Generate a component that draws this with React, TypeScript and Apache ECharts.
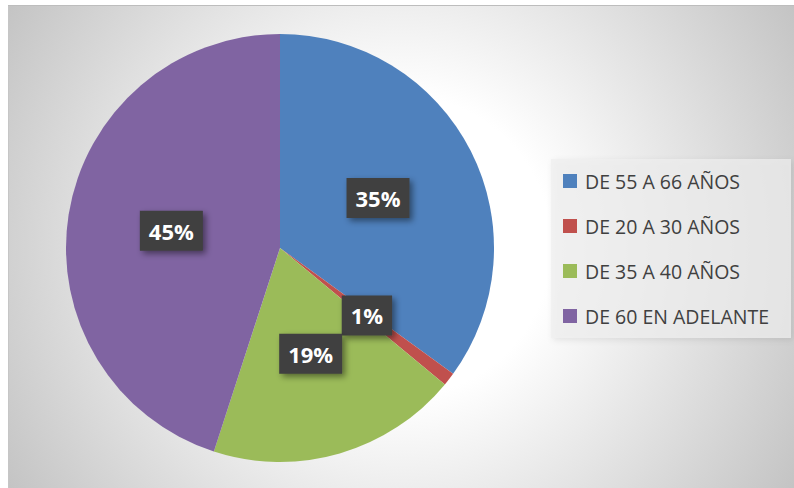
import React, { useEffect, useRef } from "react";
import * as echarts from "echarts";

const categories = ["DE 55 A 66 AÑOS", "DE 20 A 30 AÑOS", "DE 35 A 40 AÑOS", "DE 60 EN ADELANTE"];
const values = [35, 1, 19, 45];
const colors = ["#4f81bd", "#c0504d", "#9bbb59", "#8064a2"];

export default function App() {
  const ref = useRef<HTMLDivElement>(null);
  useEffect(() => {
    if (!ref.current) return;
    const chart = echarts.init(ref.current, null, { renderer: "svg" });
    chart.setOption({
      animation: false,
      backgroundColor: "transparent",
      color: colors,
      graphic: [
        {
          type: "rect",
          left: 543,
          top: 154,
          shape: { width: 240, height: 179 },
          style: {
            fill: "rgba(238,238,238,0.72)",
            shadowColor: "rgba(0,0,0,0.12)",
            shadowBlur: 6,
            shadowOffsetX: 2,
            shadowOffsetY: 2,
          },
          z: 0,
        },
      ],
      legend: {
        orient: "vertical",
        left: 555,
        top: 165,
        padding: 0,
        itemWidth: 14,
        itemHeight: 14,
        itemGap: 23,
        icon: "rect",
        data: categories,
        textStyle: {
          fontFamily: "Open Sans",
          fontSize: 19.5,
          lineHeight: 22,
          color: "#404040",
          padding: [0, 0, 0, 3],
        },
        z: 5,
      },
      series: [
        {
          type: "pie",
          center: [272, 243],
          radius: [0, 214],
          startAngle: 90,
          clockwise: true,
          avoidLabelOverlap: false,
          labelLayout: { hideOverlap: false },
          data: categories.map((name, i) => ({ name, value: values[i] })),
          label: {
            show: true,
            position: "inside",
            overflow: "none",
            formatter: (p: any) => Math.round(p.percent) + "%",
            color: "#ffffff",
            fontFamily: "Open Sans",
            fontWeight: "bold",
            fontSize: 22,
            lineHeight: 22,
            backgroundColor: "#3f3f3f",
            padding: [9, 9, 9, 9],
            shadowColor: "rgba(0,0,0,0.45)",
            shadowBlur: 6,
            shadowOffsetX: 3,
            shadowOffsetY: 3,
          },
          labelLine: { show: false },
          itemStyle: { borderWidth: 0 },
          emphasis: { disabled: true },
        },
      ],
    });
    return () => chart.dispose();
  }, []);
  return (
    <div
      ref={ref}
      style={{
        position: "absolute",
        left: 8,
        top: 5,
        width: 786,
        height: 483,
        background:
          "radial-gradient(circle 460px at 393px 241px, #ffffff 0px, #ffffff 150px, #c4c4c4 460px)",
        boxShadow: "inset 0 1px 0 #bdbdbd, inset 1px 0 0 #c6c6c6",
      }}
    />
  );
}
